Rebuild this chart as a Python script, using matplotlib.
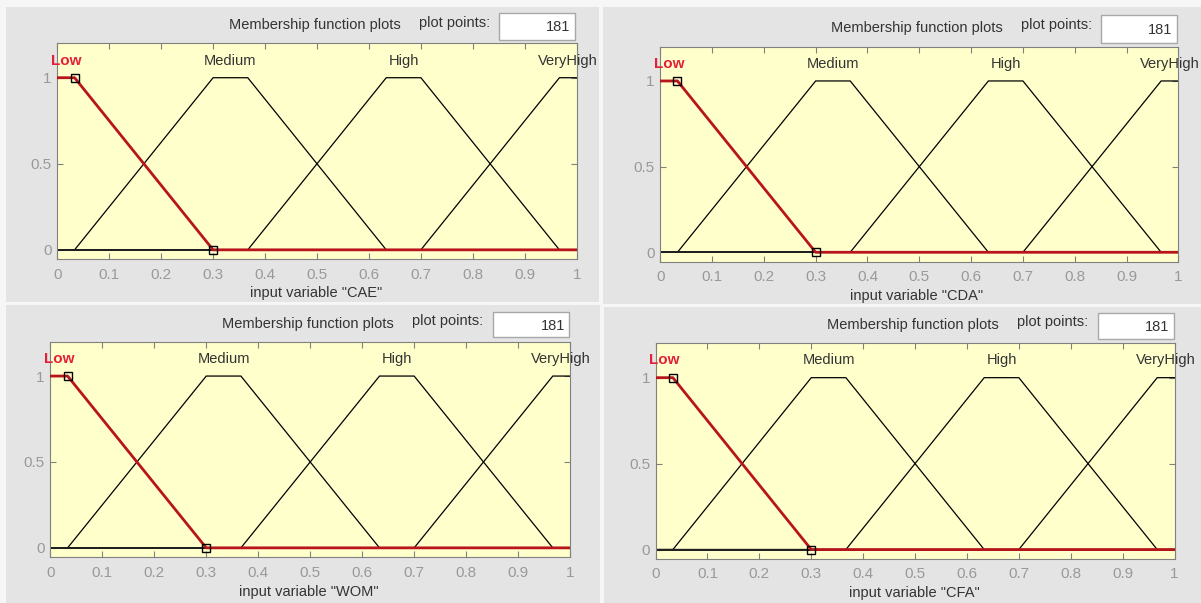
import matplotlib
matplotlib.use("Agg")
import matplotlib.pyplot as plt
from matplotlib.patches import Rectangle

# ---------------- data ----------------
variables = ["CAE", "CDA", "WOM", "CFA"]
mf_names = ["Low", "Medium", "High", "VeryHigh"]
low_x = [0, 0.0333, 0.3, 1]
low_y = [1, 1, 0, 0]
medium_x = [0, 0.0333, 0.3, 0.3667, 0.6333, 1]
medium_y = [0, 0, 1, 1, 0, 0]
high_x = [0, 0.3667, 0.6333, 0.7, 0.9667, 1]
high_y = [0, 0, 1, 1, 0, 0]
veryhigh_x = [0, 0.7, 0.9667, 1]
veryhigh_y = [0, 0, 1, 1]
label_x = [0.0167, 0.3333, 0.6667, 0.983]
label_y = 1.1
plot_points = 181
x_ticks = [0, 0.1, 0.2, 0.3, 0.4, 0.5, 0.6, 0.7, 0.8, 0.9, 1]
x_tick_labels = ["0", "0.1", "0.2", "0.3", "0.4", "0.5", "0.6", "0.7", "0.8", "0.9", "1"]
y_ticks = [0, 0.5, 1]
y_tick_labels = ["0", "0.5", "1"]

# ---------------- layout (pixels) ----------------
W, H = 1201, 603
layouts = [
    dict(panel=(6, 7, 599, 302), axes=(57.3, 43.3, 576.7, 259.3), title=(314.6, 25.0),
         pp=(418.8, 23.0), box=(499.3, 12.7, 574.7, 40.0), xlabel=(316.0, 293.0)),
    dict(panel=(603, 7, 1201, 304), axes=(660.2, 46.7, 1178.4, 261.7), title=(917.0, 28.3),
         pp=(1020.7, 25.0), box=(1101.0, 15.0, 1176.6, 42.5), xlabel=(916.5, 296.0)),
    dict(panel=(6, 305, 600, 603), axes=(50.3, 341.7, 570.1, 557.3), title=(308.0, 324.0),
         pp=(412.0, 320.5), box=(493.0, 311.7, 569.0, 337.3), xlabel=(308.4, 592.3)),
    dict(panel=(604, 307, 1201, 603), axes=(655.6, 343.3, 1174.5, 559.0), title=(912.8, 325.0),
         pp=(1016.9, 322.0), box=(1098.0, 312.7, 1173.6, 339.0), xlabel=(914.0, 593.3)),
]

FONT = "Liberation Sans"
plt.rcParams["font.family"] = [FONT, "DejaVu Sans"]

fig = plt.figure(figsize=(W / 100, H / 100), dpi=100, facecolor="#f6f6f6")


def fx(px):
    return px / W


def fy(py):
    return 1 - py / H


panel_col = "#e4e4e4"
text_col = "#333333"
tick_col = "#999999"
spine_col = "#808080"
red_line = "#b8141c"
red_text = "#e3223a"

for var, lay in zip(variables, layouts):
    x0, y0, x1, y1 = lay["panel"]
    fig.patches.append(Rectangle((fx(x0), fy(y1)), fx(x1 - x0), (y1 - y0) / H,
                                 transform=fig.transFigure, facecolor=panel_col,
                                 edgecolor="none", zorder=-10))

    ax0, ay0, ax1, ay1 = lay["axes"]
    ax = fig.add_axes([fx(ax0), fy(ay1), fx(ax1 - ax0), (ay1 - ay0) / H])
    ax.set_zorder(2)
    ax.set_facecolor("#ffffcc")
    ax.set_xlim(0, 1)
    ax.set_ylim(-0.055, 1.2)

    for xs, ys in [(medium_x, medium_y), (high_x, high_y), (veryhigh_x, veryhigh_y)]:
        ax.plot(xs, ys, color="black", lw=0.9, zorder=2, solid_joinstyle="miter")
    ax.plot([0, 1], [0, 0], color="#202020", lw=1.4, zorder=2)
    ax.plot(low_x, low_y, color=red_line, lw=2.0, zorder=3)
    ax.plot([low_x[1], low_x[2]], [low_y[1], low_y[2]], ls="none", marker="s",
            markersize=6, markerfacecolor="none", markeredgecolor="black",
            markeredgewidth=1.0, zorder=4)

    for i, (name, lx) in enumerate(zip(mf_names, label_x)):
        ax.text(lx, label_y, name, ha="center", va="center",
                fontsize=11 if i == 0 else 10.5,
                fontweight="bold" if i == 0 else "normal",
                color=red_text if i == 0 else text_col, zorder=5, clip_on=False)

    ax.set_xticks(x_ticks)
    ax.set_xticklabels(x_tick_labels)
    ax.set_yticks(y_ticks)
    ax.set_yticklabels(y_tick_labels)
    ax.tick_params(direction="in", length=4, width=0.8, colors=spine_col,
                   labelcolor=tick_col, labelsize=11, top=True, right=True)
    ax.tick_params(axis="x", pad=6)
    ax.tick_params(axis="y", pad=4)
    for s in ax.spines.values():
        s.set_color(spine_col)
        s.set_linewidth(0.8)

    tx, ty = lay["title"]
    fig.text(fx(tx), fy(ty), "Membership function plots", ha="center", va="center",
             fontsize=10.5, color=text_col)
    px_, py_ = lay["pp"]
    fig.text(fx(px_), fy(py_), "plot points:", ha="left", va="center",
             fontsize=10.5, color=text_col)
    bx0, by0, bx1, by1 = lay["box"]
    fig.patches.append(Rectangle((fx(bx0), fy(by1)), fx(bx1 - bx0), (by1 - by0) / H,
                                 transform=fig.transFigure, facecolor="white",
                                 edgecolor="#a8a8a8", lw=1.0, zorder=1))
    fig.text(fx(bx1 - 4), fy((by0 + by1) / 2 + 1), str(plot_points), ha="right",
             va="center", fontsize=10.5, color=text_col)
    lx_, ly_ = lay["xlabel"]
    fig.text(fx(lx_), fy(ly_), 'input variable "%s"' % var, ha="center", va="center",
             fontsize=10.5, color=text_col, zorder=1)

fig.savefig("out.png", dpi=100, facecolor=fig.get_facecolor())
